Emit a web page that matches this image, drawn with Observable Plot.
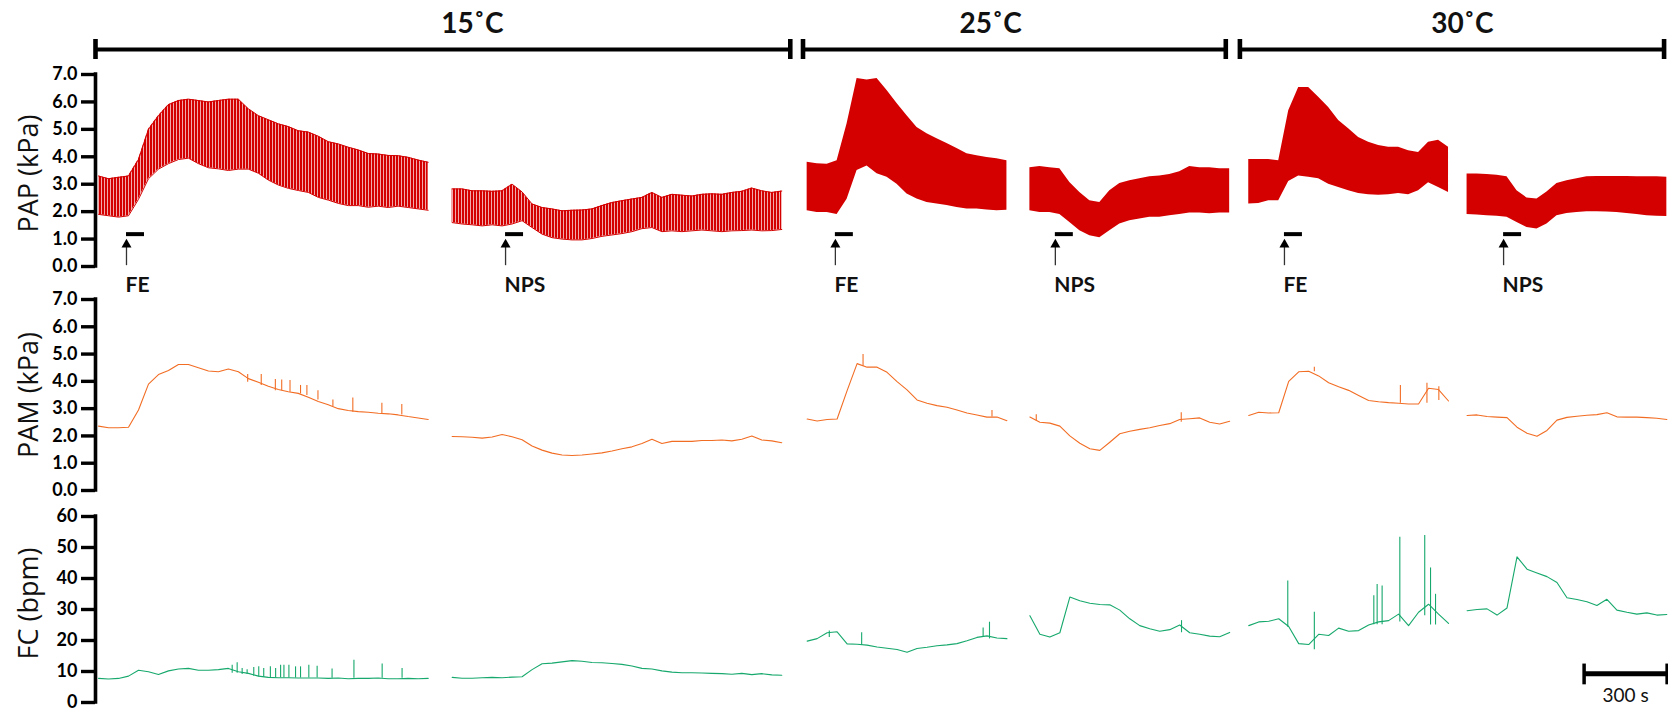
<!DOCTYPE html>
<html><head><meta charset="utf-8">
<script src="https://cdn.jsdelivr.net/npm/d3@7"></script>
<script src="https://cdn.jsdelivr.net/npm/@observablehq/plot@0.6"></script>
<style>
html,body{margin:0;padding:0;background:#fff;}
#chart{position:relative;width:1668px;height:713px;overflow:hidden;}
#chart > div{position:absolute;left:0;}
#chart svg{overflow:visible;display:block;}
#chart svg g[aria-label="y-axis tick label"] text{font-weight:700;}
</style></head><body><div id="chart"></div>
<script>
// ---------- data ----------
const segNames = ["15˚C FE", "15˚C NPS", "25˚C FE", "25˚C NPS", "30˚C FE", "30˚C NPS"];
const segTemp = [15, 15, 25, 25, 30, 30];
const segStart = [11, 1289, 2572, 3377, 4168, 4957];   // s
const sampleStep = 36.1;                                // s between samples
const xMax = 5685;

// PAP pulsatile envelope (kPa): systolic (high) and diastolic (low)
const papHigh = [
  [3.3,3.2,3.25,3.3,3.9,5.0,5.5,5.9,6.05,6.1,6.05,6.0,6.05,6.1,6.1,5.75,5.5,5.35,5.2,5.1,4.95,4.9,4.75,4.55,4.47,4.35,4.25,4.12,4.1,4.05,4.04,3.98,3.88,3.8],
  [2.83,2.83,2.76,2.76,2.74,2.76,3.0,2.72,2.28,2.15,2.1,2.03,2.05,2.06,2.1,2.22,2.33,2.4,2.46,2.52,2.7,2.52,2.63,2.6,2.57,2.63,2.65,2.63,2.7,2.74,2.86,2.76,2.7,2.75],
  [3.8,3.75,3.73,3.86,5.2,6.85,6.8,6.85,6.42,5.94,5.5,5.07,4.84,4.66,4.48,4.3,4.11,4.04,3.97,3.93,3.86],
  [3.6,3.65,3.6,3.56,3.06,2.7,2.4,2.33,2.76,3.03,3.13,3.2,3.27,3.3,3.35,3.45,3.65,3.6,3.6,3.56,3.56],
  [3.9,3.9,3.9,3.86,5.68,6.53,6.53,6.17,5.8,5.32,5.02,4.7,4.53,4.41,4.35,4.35,4.22,4.16,4.53,4.6,4.35],
  [3.37,3.37,3.35,3.33,3.27,2.76,2.5,2.46,2.72,3.03,3.13,3.2,3.27,3.28,3.28,3.28,3.28,3.27,3.27,3.27,3.25]
];
const papLow = [
  [1.9,1.85,1.8,1.85,2.45,3.2,3.55,3.75,3.9,3.95,3.75,3.6,3.56,3.5,3.55,3.55,3.4,3.15,2.97,2.85,2.77,2.7,2.52,2.42,2.3,2.22,2.22,2.16,2.2,2.15,2.2,2.15,2.1,2.05],
  [1.6,1.55,1.52,1.48,1.52,1.48,1.55,1.67,1.42,1.18,1.05,1.0,0.97,0.97,1.02,1.1,1.15,1.2,1.27,1.38,1.42,1.27,1.3,1.27,1.3,1.33,1.3,1.27,1.3,1.31,1.33,1.3,1.31,1.35],
  [2.03,1.97,1.97,1.9,2.45,3.5,3.66,3.38,3.25,3.0,2.64,2.46,2.33,2.28,2.22,2.15,2.1,2.1,2.06,2.03,2.05],
  [2.03,1.97,1.97,1.9,1.6,1.3,1.12,1.05,1.3,1.55,1.67,1.73,1.8,1.8,1.85,1.9,1.95,1.95,1.92,1.95,1.95],
  [2.28,2.3,2.4,2.4,3.1,3.3,3.25,3.2,3.0,2.88,2.76,2.66,2.62,2.6,2.62,2.66,2.62,2.76,3.05,2.88,2.7],
  [1.9,1.88,1.85,1.83,1.8,1.6,1.42,1.37,1.55,1.85,1.93,1.97,2.0,2.0,1.99,1.97,1.93,1.9,1.85,1.83,1.82]
];
// PAM (kPa)
const pam = [
  [2.36,2.3,2.3,2.32,2.95,3.9,4.25,4.4,4.62,4.62,4.5,4.38,4.35,4.45,4.35,4.1,3.97,3.82,3.7,3.62,3.56,3.42,3.26,3.14,3.0,2.93,2.89,2.87,2.83,2.81,2.77,2.71,2.66,2.6],
  [1.98,1.97,1.95,1.92,1.96,2.05,1.97,1.86,1.63,1.48,1.37,1.3,1.28,1.3,1.34,1.38,1.45,1.53,1.6,1.72,1.88,1.72,1.8,1.8,1.8,1.83,1.83,1.85,1.82,1.88,2.0,1.85,1.82,1.75],
  [2.62,2.55,2.6,2.62,3.66,4.65,4.52,4.52,4.33,3.99,3.69,3.32,3.2,3.11,3.05,2.95,2.84,2.77,2.69,2.69,2.56],
  [2.69,2.5,2.47,2.36,2.0,1.73,1.53,1.47,1.77,2.08,2.17,2.24,2.3,2.38,2.45,2.6,2.63,2.66,2.5,2.44,2.54],
  [2.75,2.87,2.84,2.85,4.0,4.35,4.37,4.2,3.95,3.8,3.67,3.48,3.3,3.25,3.22,3.2,3.17,3.17,3.75,3.7,3.28],
  [2.75,2.77,2.71,2.69,2.67,2.32,2.1,1.99,2.2,2.58,2.68,2.72,2.76,2.78,2.85,2.7,2.69,2.69,2.67,2.65,2.6]
];
// FC (bpm)
const fc = [
  [7.77,7.56,7.77,8.5,10.4,9.9,9.05,10.2,10.8,11.0,10.4,10.4,10.6,11.0,9.9,9.4,8.5,8.1,8.0,8.0,7.9,7.9,7.9,7.77,7.9,7.67,7.77,7.77,7.9,7.67,7.67,7.77,7.67,7.77],
  [8.1,7.8,7.8,8.0,8.1,8.0,8.2,8.3,10.6,12.5,12.7,13.1,13.5,13.3,12.9,12.8,12.6,12.3,11.8,11.0,10.8,10.2,9.8,9.6,9.6,9.5,9.4,9.3,9.1,9.4,9.0,9.3,8.9,8.8],
  [19.8,20.6,22.5,22.8,18.9,18.8,18.5,17.9,17.5,17.1,16.2,17.4,17.8,18.3,18.6,19.0,19.9,21.0,21.5,20.8,20.6],
  [28.0,22.0,21.1,22.5,34.0,32.8,32.0,31.6,31.5,29.8,27.0,24.8,23.8,23.0,23.5,25.0,22.5,22.0,21.4,21.2,22.6],
  [24.8,26.0,26.2,27.0,24.5,19.0,18.7,22.0,21.6,24.0,23.0,23.2,25.0,26.0,26.4,28.5,24.8,29.1,31.7,28.5,25.5],
  [29.6,30.0,30.2,28.2,30.5,47.0,43.0,41.8,40.6,38.7,33.8,33.2,32.5,31.3,33.3,29.8,29.1,28.5,28.9,28.2,28.4]
];
// brief spikes: [time s, baseline, peak]
const pamSpikes = [[550,3.97,4.25],[599,3.85,4.25],[650,3.66,4.07],[673,3.66,4.05],[703,3.6,4.03],[741,3.54,3.85],[764,3.48,3.85],[804,3.32,3.66],[858,3.08,3.32],[930,2.87,3.39],[1035,2.81,3.2],[1107,2.77,3.15],[2774,4.55,4.98],[3240,2.69,2.93],[3400,2.55,2.78],[3924,2.5,2.85],[4405,4.35,4.52],[4716,3.2,3.85],[4812,3.2,3.93],[4855,3.3,3.8]];
const fcSpikes = [[494,9.4,12.0],[512,9.4,12.8],[530,9.0,11.0],[548,9.0,10.6],[572,8.5,11.3],[590,8.3,11.5],[608,8.1,11.0],[632,8.0,11.5],[651,8.0,11.0],[669,8.0,12.0],[681,8.0,12.0],[699,7.9,12.0],[723,7.9,11.5],[741,7.9,11.5],[771,7.9,12.0],[801,7.9,11.7],[855,7.8,10.8],[934,7.8,13.6],[1036,7.8,12.4],[1108,7.8,11.0],[2652,21,23.1],[2769,18.4,22.5],[3208,21,24.0],[3231,20.5,25.9],[3925,22.5,26.4],[4309,24.3,39.2],[4405,17.0,29.1],[4620,25.1,34.4],[4632,25.1,38.1],[4650,25.1,37.6],[4714,26,53.3],[4804,28,53.9],[4825,25,43.4],[4843,25,34.9]];

// drug injections
const drugNames = ["FE", "NPS", "FE", "NPS", "FE", "NPS"];
const drugStart = [112, 1482, 2674, 3469, 4297, 5089];
const drugDuration = 65;

// temperature periods
const tempLabels = ["15˚C", "25˚C", "30˚C"];
const tempStart = [0, 2557, 4136];
const tempEnd = [2511, 4085, 5669];
const tempLabelAt = [1362, 3235, 4940];

const kPaTicks = [0, 1, 2, 3, 4, 5, 6, 7];
const fcTicks = [0, 10, 20, 30, 40, 50, 60];
const scaleBarStart = 5380, scaleBarLength = 300;

// ---------- build ----------
const RED = "#d40000", ORANGE = "#f26d24", GREEN = "#16a86c";
const rowsOf = (arr) => arr.flatMap((vals, i) => vals.map((v, k) => ({seg: segNames[i], temp: segTemp[i], t: segStart[i] + k * sampleStep, v})));
const papRows = papHigh.flatMap((hi, i) => hi.map((h, k) => ({seg: segNames[i], temp: segTemp[i], t: segStart[i] + k * sampleStep, hi: h, lo: papLow[i][k]})));
const pap15 = papRows.filter(d => d.temp === 15);
const papDense = papRows.filter(d => d.temp !== 15);
const spikeRows = (arr) => arr.map(([t, base, peak]) => ({t, base, peak}));

const common = {width: 1668, marginLeft: 95, marginRight: 0,
  x: {domain: [0, xMax], axis: null},
  style: "font-family: Lato, sans-serif; overflow: visible; background: transparent;"};

function axisMarks(ticks, fmt, maxV, label, labelDy) {
  return [
    Plot.ruleX([0], {y1: 0, y2: maxV, strokeWidth: 3.6, strokeLinecap: "square"}),
    Plot.axisY({ticks, tickFormat: fmt, tickSize: 14, tickPadding: 4, strokeWidth: 3.4, fontSize: 18, fontWeight: "bold", label: null, fill: "black"}),
    Plot.text([label], {frameAnchor: "left", textAnchor: "middle", lineAnchor: "middle", rotate: -90, dx: -66, dy: labelDy, text: d => d, fontSize: 27, fontFamily: "Open Sans", fill: "#111"})
  ];
}

function place(el, top) {
  const div = document.createElement("div");
  div.style.top = top + "px";
  div.appendChild(el);
  document.getElementById("chart").appendChild(div);
  return el;
}

// header
const header = Plot.plot({...common, height: 62, marginTop: 0, marginBottom: 0,
  y: {domain: [0, 1], range: [59, 39], axis: null},
  marks: [
    Plot.ruleY(tempLabels, {x1: (d, i) => tempStart[i], x2: (d, i) => tempEnd[i], y: 0.5, strokeWidth: 4.2}),
    Plot.ruleX(tempStart.concat(tempEnd), {x: d => d, y1: 0, y2: 1, strokeWidth: 4.6}),
    Plot.text(tempLabels, {x: (d, i) => tempLabelAt[i], y: 1, dy: -15, text: d => d, fontSize: 28, fontWeight: "bold", fill: "#111"})
  ]});
place(header, 0);

// PAP
const pap = Plot.plot({...common, height: 240, marginTop: 14, marginBottom: 34,
  y: {domain: [0, 7], axis: null},
  marks: [
    Plot.areaY(pap15, {x: "t", y1: "lo", y2: "hi", z: "seg", fill: "url(#papStripes)"}),
    Plot.lineY(pap15, {x: "t", y: "hi", z: "seg", stroke: RED, strokeWidth: 1}),
    Plot.lineY(pap15, {x: "t", y: "lo", z: "seg", stroke: RED, strokeWidth: 1}),
    Plot.areaY(papDense, {x: "t", y1: "lo", y2: "hi", z: "seg", fill: RED}),
    ...axisMarks(kPaTicks, d3.format(".1f"), 7, "PAP (kPa)", 3),
    Plot.ruleX(drugStart, {x: d => d, y1: 0.03, y2: 0.8, stroke: "#333", strokeWidth: 1.3}),
    Plot.dot(drugStart, {x: d => d, y: 0.8, symbol: "triangle", r: 3.7, fill: "#000", stroke: "none"}),
    Plot.ruleY(drugStart, {x1: d => d, x2: d => d + drugDuration, y: 1.18, strokeWidth: 4}),
    Plot.text(drugNames, {x: (d, i) => drugStart[i], y: -0.68, text: d => d, textAnchor: "start", dx: -1, fontSize: 21, fontWeight: "bold", fill: "#111"})
  ]});
{
  const defs = d3.select(pap).insert("defs", ":first-child");
  const p = defs.append("pattern").attr("id", "papStripes").attr("patternUnits", "userSpaceOnUse").attr("width", 3).attr("height", 10);
  p.append("rect").attr("width", 3).attr("height", 10).attr("fill", "#f1a9a9");
  p.append("rect").attr("width", 2).attr("height", 10).attr("fill", RED);
}
place(pap, 60);

// PAM
const pamPlot = Plot.plot({...common, height: 210, marginTop: 9, marginBottom: 10,
  y: {domain: [0, 7], axis: null},
  marks: [
    Plot.lineY(rowsOf(pam), {x: "t", y: "v", z: "seg", stroke: ORANGE, strokeWidth: 1.1}),
    Plot.ruleX(spikeRows(pamSpikes), {x: "t", y1: "base", y2: "peak", stroke: ORANGE, strokeWidth: 1.1}),
    ...axisMarks(kPaTicks, d3.format(".1f"), 7, "PAM (kPa)", 0)
  ]});
place(pamPlot, 290);

// FC
const fcPlot = Plot.plot({...common, height: 208, marginTop: 13, marginBottom: 9,
  y: {domain: [0, 60], axis: null},
  marks: [
    Plot.lineY(rowsOf(fc), {x: "t", y: "v", z: "seg", stroke: GREEN, strokeWidth: 1.1}),
    Plot.ruleX(spikeRows(fcSpikes), {x: "t", y1: "base", y2: "peak", stroke: GREEN, strokeWidth: 1.1}),
    ...axisMarks(fcTicks, d3.format("d"), 60, "FC (bpm)", -6),
    Plot.ruleY([scaleBarStart], {x1: d => d, x2: d => d + scaleBarLength, y: 9.3, strokeWidth: 5}),
    Plot.ruleX([scaleBarStart, scaleBarStart + scaleBarLength], {x: d => d, y1: 5.7, y2: 12.4, strokeWidth: 3.5}),
    Plot.text(["300 s"], {x: scaleBarStart + scaleBarLength / 2, y: 2, text: d => d, fontSize: 19, fill: "#111"})
  ]});
place(fcPlot, 503);
</script></body></html>
